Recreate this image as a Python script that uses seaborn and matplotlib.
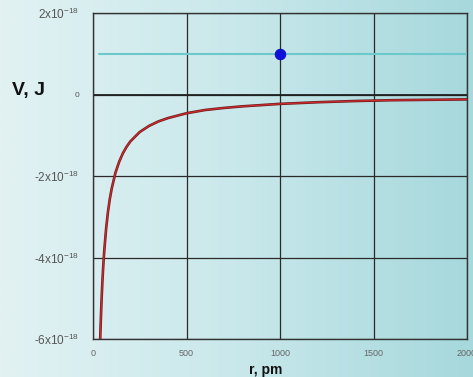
import numpy as np
import pandas as pd
import matplotlib
matplotlib.use("Agg")
import matplotlib.pyplot as plt
import matplotlib.patheffects as pe
from matplotlib.colors import LinearSegmentedColormap
import seaborn as sns

# ---- data ----
r_pm = [38, 40, 45, 50, 55, 60, 70, 80, 90, 100, 120, 140, 160, 180, 200,
        250, 300, 350, 400, 500, 600, 700, 800, 1000, 1200, 1400, 1600, 1800, 2000]
V_e18 = [-6.07, -5.77, -5.13, -4.61, -4.19, -3.85, -3.30, -2.88, -2.56, -2.31,
         -1.92, -1.65, -1.44, -1.28, -1.15, -0.92, -0.77, -0.66, -0.58, -0.46,
         -0.38, -0.33, -0.29, -0.23, -0.19, -0.16, -0.14, -0.13, -0.12]
level_r = [32, 2000]
level_V = [1.0, 1.0]
dot_r = [1000]
dot_V = [1.0]
x_ticks = [0, 500, 1000, 1500, 2000]
x_ticklabels = ["0", "500", "1000", "1500", "2000"]
y_ticks = [-6, -4, -2, 0, 2]
y_ticklabels = [r"-6x10$^{-18}$", r"-4x10$^{-18}$", r"-2x10$^{-18}$", "0", r"2x10$^{-18}$"]

sns.set_style("white")
plt.rcParams["font.family"] = ["Liberation Sans", "DejaVu Sans"]
plt.rcParams["mathtext.fontset"] = "custom"
plt.rcParams["mathtext.rm"] = "Liberation Sans"
plt.rcParams["mathtext.it"] = "Liberation Sans"
plt.rcParams["mathtext.default"] = "regular"

fig = plt.figure(figsize=(4.73, 3.77), dpi=100)

# background gradient
bg = fig.add_axes([0, 0, 1, 1], zorder=-10)
cmap = LinearSegmentedColormap.from_list("bg", ["#e2f2f3", "#c9e8eb", "#a6d8dc"])
grad = np.linspace(0, 1, 256)[None, :] * np.ones((2, 1))
bg.imshow(grad, aspect="auto", cmap=cmap, extent=[0, 1, 0, 1])
bg.set_axis_off()

ax = fig.add_axes([93 / 473, 38 / 377, 374 / 473, 326 / 377])
ax.set_facecolor("none")

curve = pd.DataFrame({"r": r_pm, "V": V_e18})
level = pd.DataFrame({"r": level_r, "V": level_V})
dot = pd.DataFrame({"r": dot_r, "V": dot_V})

sns.lineplot(data=level, x="r", y="V", ax=ax, color="#6cc8ca", linewidth=1.5,
             estimator=None, sort=False, zorder=3)
sns.lineplot(data=curve, x="r", y="V", ax=ax, color="#cc2a2e", linewidth=0.9,
             estimator=None, sort=False, zorder=4,
             path_effects=[pe.Stroke(linewidth=1.9, foreground="#6e1c1c"), pe.Normal()])
sns.scatterplot(data=dot, x="r", y="V", ax=ax, s=60, color="#1010dd",
                edgecolor="#0808b0", linewidth=0.5, zorder=6, legend=False)

ax.set_xlim(0, 2000)
ax.set_ylim(-6, 2)
ax.set_xticks(x_ticks)
ax.set_xticklabels(x_ticklabels, fontsize=6.5, color="#666666")
ax.set_yticks(y_ticks)
ax.set_yticklabels(y_ticklabels, fontsize=8.5, color="#555555")
ax.get_yticklabels()[3].set_fontsize(6)
ax.tick_params(axis="x", direction="out", length=3, width=1, color="#333333", pad=4)
ax.tick_params(axis="y", direction="out", length=5, width=1, color="#333333", pad=5)
ax.grid(True, color="#2a2a2a", linewidth=0.9)
ax.set_axisbelow(True)
for s in ax.spines.values():
    s.set_color("#333333")
    s.set_linewidth(1)
ax.axhline(0, color="#222222", linewidth=1.3, zorder=2)

ax.set_xlabel("")
ax.set_ylabel("")
fig.text(28 / 473, 1 - 90 / 377, "V, J", fontsize=14, fontweight="bold",
         ha="center", va="center", color="#111111")
fig.text(266 / 473, 1 - 370 / 377, "r, pm", fontsize=10, fontweight="bold",
         ha="center", va="center", color="#111111")

fig.savefig("out.png", dpi=100)
